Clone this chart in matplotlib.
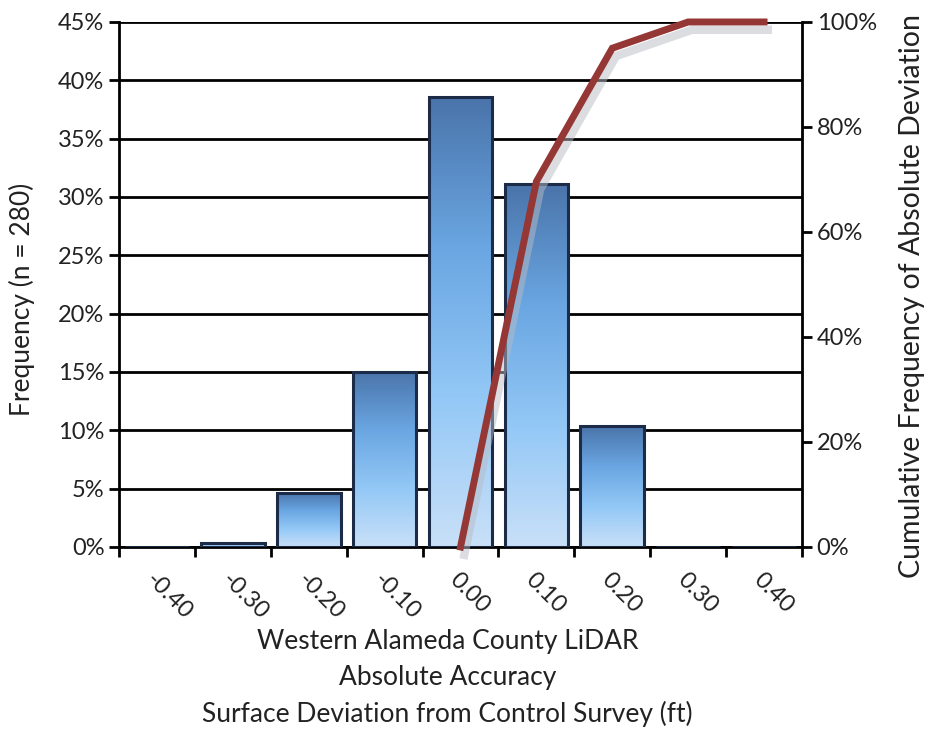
import numpy as np
import matplotlib.pyplot as plt
from matplotlib.colors import LinearSegmentedColormap
from matplotlib.ticker import FuncFormatter

plt.rcParams['font.family'] = ['Lato', 'DejaVu Sans']

# data
categories = ['-0.40', '-0.30', '-0.20', '-0.10', '0.00', '0.10', '0.20', '0.30', '0.40']
frequency = [0.0, 0.36, 4.64, 15.0, 38.57, 31.07, 10.36, 0.0, 0.0]  # [%]
cum_categories = ['0.00', '0.10', '0.20', '0.30', '0.40']
cum_frequency = [0.0, 69.6, 95.0, 100.0, 100.0]  # [%]

fig = plt.figure(figsize=(9.32, 7.3), dpi=100)
ax = fig.add_axes([0.1277, 0.2507, 0.7328, 0.7192])
x = np.arange(len(categories))

bar_cmap = LinearSegmentedColormap.from_list(
    'bars', ['#c9e0f8', '#93c8f6', '#6aa6e2', '#4a74aa'])
bars = ax.bar(x, frequency, width=0.84, color='none', edgecolor='#1b2b48',
              linewidth=2.2, zorder=3)
grad = np.linspace(0, 1, 256).reshape(-1, 1)
for b, h in zip(bars, frequency):
    if h <= 0:
        continue
    bx, by = b.get_x(), b.get_y()
    im = ax.imshow(grad, cmap=bar_cmap, origin='lower', aspect='auto',
                   extent=[bx, bx + b.get_width(), by, by + h], zorder=2)
    im.set_clip_path(b)

ax.set_xlim(-0.5, len(categories) - 0.5)
ax.set_ylim(0, 45)
ax.set_yticks(np.arange(0, 46, 5))
ax.yaxis.set_major_formatter(FuncFormatter(lambda v, p: f'{v:.0f}%'))
ax.grid(axis='y', color='black', linewidth=2, zorder=1)
ax.set_axisbelow(True)

# tick marks between categories, labels rotated below
ax.set_xticks(np.arange(-0.5, len(categories), 1.0))
ax.set_xticklabels([])
for i, lab in enumerate(categories):
    ax.text(i + 0.0, -1.9, lab, rotation=-45, ha='left', va='top',
            rotation_mode='anchor', fontsize=17, color='#222222')

for s in ['left', 'right', 'bottom']:
    ax.spines[s].set_linewidth(2)
ax.spines['top'].set_visible(False)
ax.tick_params(axis='both', width=2, length=7, labelsize=17, colors='black',
               labelcolor='#222222')
ax.set_ylabel('Frequency (n = 280)', fontsize=19, color='#222222', va='center')
ax.yaxis.set_label_coords(-0.142, 0.472)
ax.set_xlabel('Western Alameda County LiDAR\nAbsolute Accuracy\n'
              'Surface Deviation from Control Survey (ft)',
              fontsize=19, color='#222222', linespacing=1.52, va='top')
ax.xaxis.set_label_coords(0.481, -0.157)

ax2 = ax.twinx()
ax2.set_ylim(0, 100)
ax2.set_yticks(np.arange(0, 101, 20))
ax2.yaxis.set_major_formatter(FuncFormatter(lambda v, p: f'{v:.0f}%'))
ax2.tick_params(axis='y', width=2, length=7, labelsize=17, labelcolor='#222222')
for s in ax2.spines.values():
    s.set_visible(False)
ax2.set_ylabel('Cumulative Frequency of Absolute Deviation', fontsize=20.5,
               color='#222222', va='center')
ax2.yaxis.set_label_coords(1.161, 0.478)

cx = [categories.index(c) for c in cum_categories]
ax2.plot(np.array(cx) + 0.05, np.array(cum_frequency) - 1.5, color='#b8bcc4',
         linewidth=6, alpha=0.5, zorder=3, clip_on=False)
ax2.plot(cx, cum_frequency, color='#953735', linewidth=5, zorder=4,
         solid_joinstyle='miter', clip_on=False)

fig.savefig('out.png', dpi=100)
